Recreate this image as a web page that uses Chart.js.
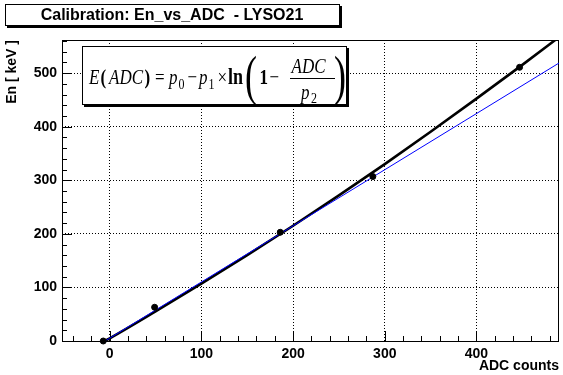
<!DOCTYPE html>
<html>
<head>
<meta charset="utf-8">
<script src="https://cdn.jsdelivr.net/npm/chart.js@4/dist/chart.umd.min.js"></script>
<style>
  html, body { margin: 0; padding: 0; background: #fff; }
  #wrap { width: 563px; height: 375px; }
</style>
</head>
<body>
<div id="wrap"><canvas id="calib" width="563" height="375"></canvas></div>
<script>
// calibration points (ADC channel, energy in keV)
const adcPoints = [-7, 49, 186, 287, 447];
const energyPoints = [0, 63, 203, 307, 511];

// black fit curve
const fitAdc = [-12, 0, 50, 100, 150, 200, 250, 300, 350, 400, 450, 492];
const fitEnergy = [-6, 5, 55.3, 107, 160.3, 215.2, 271.8, 330.3, 390.7, 452.5, 515.5, 570];

// blue straight line
const linAdc = [-7, 490];
const linEnergy = [-2, 519];

const xTicks = [0, 100, 200, 300, 400];
const yTicks = [0, 100, 200, 300, 400, 500];

const sans = "'Liberation Sans', Arial, sans-serif";
const serif = "'Liberation Serif', 'Times New Roman', serif";

function toXY(xs, ys) {
    return xs.map((v, i) => ({x: v, y: ys[i]}));
}

function piece(ctx, text, x, base, font, sy) {
    ctx.save();
    ctx.translate(x, base);
    ctx.scale(1, sy || 1.25);
    ctx.font = font;
    ctx.fillText(text, 0, 0);
    ctx.restore();
}

function shadowBox(ctx, x, y, w, h) {
    ctx.fillStyle = "#000";
    ctx.fillRect(x + 2, y + 2, w, h);
    ctx.fillStyle = "#fff";
    ctx.fillRect(x, y, w, h);
    ctx.strokeStyle = "#000";
    ctx.lineWidth = 1;
    ctx.strokeRect(x + 0.5, y + 0.5, w - 1, h - 1);
}

const rootFrame = {
    id: "rootFrame",
    beforeDatasetsDraw(chart) {
        const {ctx, chartArea: a, scales: {x, y}} = chart;
        ctx.save();
        ctx.strokeStyle = "#000";
        ctx.lineWidth = 1;
        ctx.beginPath();
        // ticks point inwards like ROOT does
        for (let v = -40; v <= x.max; v += 20) {
            const px = Math.round(x.getPixelForValue(v)) + 0.5;
            const len = v % 100 === 0 ? 10 : 5;
            ctx.moveTo(px, a.bottom);
            ctx.lineTo(px, a.bottom - len);
        }
        for (let v = 0; v <= y.max; v += 20) {
            const py = Math.round(y.getPixelForValue(v)) + 0.5;
            const len = v % 100 === 0 ? 10 : 5;
            ctx.moveTo(a.left, py);
            ctx.lineTo(a.left + len, py);
        }
        ctx.stroke();
        ctx.strokeRect(Math.round(a.left) + 0.5, Math.round(a.top) + 0.5,
            Math.round(a.right - a.left) - 1, Math.round(a.bottom - a.top));
        ctx.restore();
    },
    afterDraw(chart) {
        const ctx = chart.ctx;
        ctx.save();
        // title pave
        shadowBox(ctx, 5, 4, 335, 22);
        ctx.fillStyle = "#000";
        ctx.textAlign = "center";
        ctx.textBaseline = "middle";
        ctx.font = "bold 16px " + sans;
        ctx.fillText("Calibration: En_vs_ADC  - LYSO21", 172, 16);

        // formula pave
        shadowBox(ctx, 82, 46, 265, 59);
        ctx.fillStyle = "#000";
        ctx.textAlign = "left";
        ctx.textBaseline = "alphabetic";
        const it = "italic 17px " + serif;
        const rm = "17px " + serif;
        const bd = "bold 17px " + serif;
        const sub = "12px " + serif;
        piece(ctx, "E", 89, 83.5, it);
        piece(ctx, "(", 100.5, 83.5, bd);
        piece(ctx, "ADC", 109, 83.5, it);
        piece(ctx, ")", 144.5, 83.5, bd);
        piece(ctx, "=", 155, 83.5, rm);
        piece(ctx, "p", 169, 83.5, it);
        piece(ctx, "0", 178.5, 88.5, sub);
        piece(ctx, "\u2212", 187.5, 83.5, rm);
        piece(ctx, "p", 199, 83.5, it);
        piece(ctx, "1", 208.5, 88.5, sub);
        piece(ctx, "\u00d7", 217.5, 83.5, rm);
        piece(ctx, "ln", 228, 83.5, "bold 18px " + serif);
        piece(ctx, "(", 245, 93.5, "36px " + serif, 1.55);
        piece(ctx, "1", 259.5, 83.5, bd);
        piece(ctx, "\u2212", 269.5, 83.5, rm);
        piece(ctx, "ADC", 291.5, 72.5, it);
        ctx.fillRect(290, 78, 45, 1);
        piece(ctx, "p", 301, 99, it);
        piece(ctx, "2", 311, 103, sub);
        piece(ctx, ")", 334, 93.5, "36px " + serif, 1.55);
        ctx.restore();
    }
};

const chart = new Chart("calib", {
    type: "scatter",
    data: {
        datasets: [
            {
                label: "data",
                data: toXY(adcPoints, energyPoints),
                backgroundColor: "#000",
                borderColor: "#000",
                pointRadius: 3,
                pointHoverRadius: 3,
                clip: false,
                order: 0,
            },
            {
                label: "linear",
                data: toXY(linAdc, linEnergy),
                showLine: true,
                borderColor: "#0000ff",
                borderWidth: 1,
                pointRadius: 0,
                clip: 0,
                order: 1,
            },
            {
                label: "E(ADC)",
                data: toXY(fitAdc, fitEnergy),
                showLine: true,
                borderColor: "#000",
                borderWidth: 2.6,
                pointRadius: 0,
                cubicInterpolationMode: "monotone",
                clip: 0,
                order: 2,
            },
        ]
    },
    options: {
        responsive: false,
        animation: false,
        events: [],
        layout: {padding: {top: 40, right: 2, left: 0, bottom: 0}},
        plugins: {
            legend: {display: false},
            tooltip: {enabled: false},
        },
        scales: {
            x: {
                type: "linear",
                min: -52,
                max: 490,
                afterBuildTicks: s => { s.ticks = xTicks.map(v => ({value: v})); },
                afterFit: s => { s.height = 34; },
                grid: {color: "#000", lineWidth: 1, drawTicks: false},
                border: {display: false, dash: [1, 2]},
                ticks: {color: "#000", padding: 5, font: {family: sans, size: 14, weight: "bold"}},
                title: {
                    display: true,
                    text: "ADC counts",
                    align: "end",
                    color: "#000",
                    padding: 0,
                    font: {family: sans, size: 14, weight: "bold"},
                },
            },
            y: {
                type: "linear",
                min: 0,
                max: 562,
                afterBuildTicks: s => { s.ticks = yTicks.map(v => ({value: v})); },
                afterFit: s => { s.width = 62; },
                grid: {color: "#000", lineWidth: 1, drawTicks: false},
                border: {display: false, dash: [1, 2]},
                ticks: {color: "#000", padding: 5, font: {family: sans, size: 14, weight: "bold"}},
                title: {
                    display: true,
                    text: "En [ keV ]",
                    align: "end",
                    color: "#000",
                    padding: {top: 4, bottom: 0},
                    font: {family: sans, size: 14, weight: "bold"},
                },
            }
        }
    },
    plugins: [rootFrame]
});
</script>
</body>
</html>
